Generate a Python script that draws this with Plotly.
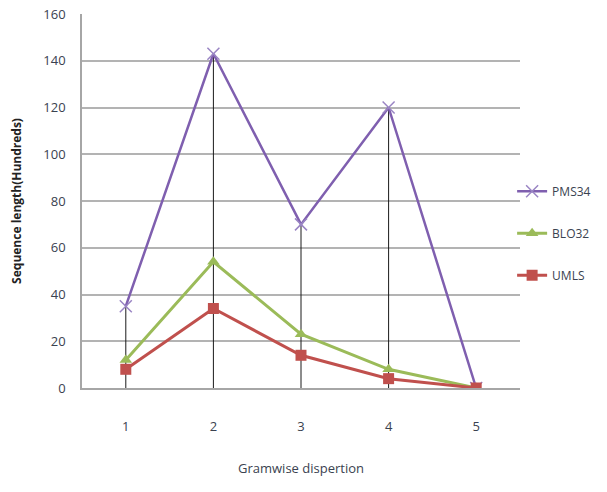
import plotly.graph_objects as go

categories = ["1", "2", "3", "4", "5"]
pms34 = [35, 143, 70, 120, 0]
blo32 = [12, 54, 23, 8, 0]
umls = [8, 34, 14, 4, 0]
y_ticks = [0, 20, 40, 60, 80, 100, 120, 140, 160]

fig = go.Figure()

# drop lines from the highest series down to zero
dx, dy = [], []
for c, v in zip(categories, pms34):
    dx += [c, c, None]
    dy += [0, v, None]
fig.add_trace(go.Scatter(x=dx, y=dy, mode="lines", line=dict(color="#1a1a1a", width=1),
                         showlegend=False, hoverinfo="skip"))

fig.add_trace(go.Scatter(x=categories, y=pms34, name="PMS34", mode="lines+markers",
                         line=dict(color="#7F5FAF", width=2.5),
                         marker=dict(symbol="x-thin", size=12, line=dict(color="#9A85C4", width=1.5)),
                         legendgroup="a"))
fig.add_trace(go.Scatter(x=categories, y=blo32, name="BLO32", mode="lines+markers",
                         line=dict(color="#9BBB59", width=3),
                         marker=dict(symbol="triangle-up", size=11, color="#9BBB59"),
                         legendgroup="b"))
fig.add_trace(go.Scatter(x=categories, y=umls, name="UMLS", mode="lines+markers",
                         line=dict(color="#C0504D", width=3),
                         marker=dict(symbol="square", size=11, color="#C0504D"),
                         legendgroup="c"))

fig.update_layout(
    width=607, height=492,
    margin=dict(l=82, r=87, t=14, b=104, autoexpand=False),
    paper_bgcolor="white", plot_bgcolor="white",
    font=dict(family="Open Sans", size=13, color="#3a4250"),
    legend=dict(x=0.982, xanchor="left", y=0.565, yanchor="top",
                tracegroupgap=23, font=dict(size=12, color="#3a4250"),
                bgcolor="rgba(0,0,0,0)"),
    xaxis=dict(type="category", range=[-0.5, 4.5], showgrid=False, showline=True,
               linecolor="#a6a6a6", linewidth=1.5, ticks="", ticklabelstandoff=26,
               tickfont=dict(size=13),
               title=dict(text="Gramwise dispertion", font=dict(size=13, color="#3a4250"), standoff=30)),
    yaxis=dict(range=[0, 160], tickvals=y_ticks, showgrid=True, gridcolor="#b3b3b3", gridwidth=2,
               showline=True, linecolor="#a6a6a6", linewidth=1.5, zeroline=False, ticks="",
               ticklabelstandoff=12, tickfont=dict(size=13),
               title=dict(text="<b>Sequence length(Hundreds)</b>", font=dict(size=12, color="#222222"),
                          standoff=19)),
)

fig.write_html("out.html")
